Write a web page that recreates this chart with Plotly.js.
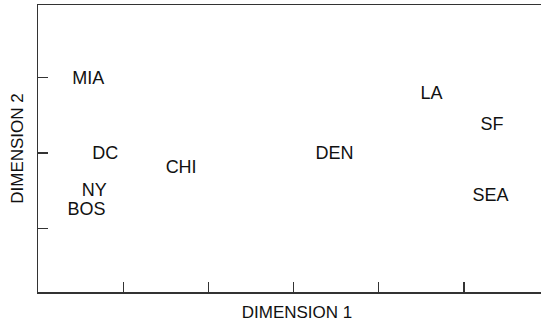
<!DOCTYPE html>
<html>
<head>
<meta charset="utf-8">
<script src="https://cdn.plot.ly/plotly-3.0.1.min.js"></script>
<style>
html,body{margin:0;padding:0;overflow:hidden;background:#fff;}
#chart{width:560px;height:322px;}
</style>
</head>
<body>
<div id="chart"></div>
<script>
const cities = ["MIA","LA","SF","DC","DEN","CHI","NY","BOS","SEA"];
const dim1 = [0.59, 4.62, 5.33, 0.79, 3.48, 1.68, 0.66, 0.57, 5.31];
const dim2 = [0.97, 0.77, 0.37, -0.02, -0.02, -0.20, -0.51, -0.76, -0.57];
const xTicks = [1, 2, 3, 4, 5];
const yTicks = [-1, 0, 1];

const trace = {
  x: dim1, y: dim2, text: cities,
  mode: "text", type: "scatter",
  textposition: "middle center",
  textfont: {family: "Liberation Sans, Arial, sans-serif", size: 18, color: "#111"},
  hoverinfo: "skip", showlegend: false
};

const axisCommon = {
  showgrid: false, zeroline: false, showline: true,
  linecolor: "#333", linewidth: 1.5,
  ticks: "inside", ticklen: 10, tickwidth: 1.2, tickcolor: "#333",
  showticklabels: false, fixedrange: true
};

const layout = {
  width: 560, height: 322,
  margin: {l: 38, r: 4, t: 5, b: 30},
  paper_bgcolor: "#fff", plot_bgcolor: "#fff",
  font: {family: "Liberation Sans, Arial, sans-serif", color: "#111"},
  xaxis: Object.assign({}, axisCommon, {
    range: [0, 6.08], tickvals: xTicks, mirror: true,
    title: {text: "DIMENSION 1", font: {size: 17, color: "#111"}, standoff: 14}
  }),
  yaxis: Object.assign({}, axisCommon, {
    range: [-1.84, 1.96], tickvals: yTicks,
    title: {text: "DIMENSION 2", font: {size: 17, color: "#111"}, standoff: 8}
  })
};

Plotly.newPlot("chart", [trace], layout, {displayModeBar: false, staticPlot: true});
</script>
</body>
</html>
